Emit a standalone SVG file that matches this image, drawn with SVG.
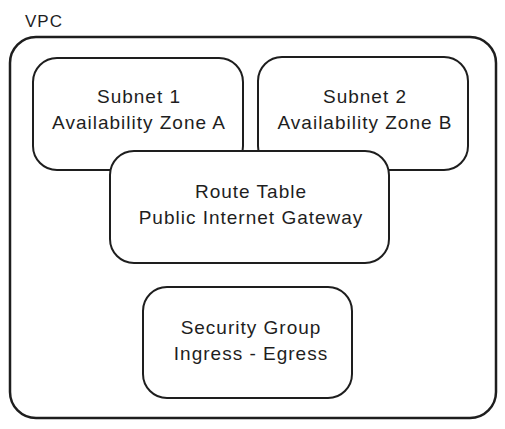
<svg xmlns="http://www.w3.org/2000/svg" width="505" height="429" viewBox="0 0 505 429">
<style>
.box{fill:#fff;stroke:#1e1e1e;stroke-width:2;}
.outer{fill:none;stroke:#1e1e1e;stroke-width:2.5;}
text{font-family:"Liberation Sans","DejaVu Sans",sans-serif;font-size:19px;letter-spacing:1px;fill:#1e1e1e;text-anchor:middle;}
</style>
<rect width="505" height="429" fill="#fff"/>
<g id="vpc">
<text x="25" y="27" style="text-anchor:start;font-size:17px">VPC</text>
<rect class="outer" x="10" y="37" width="486" height="381" rx="26"/>
</g>
<g id="subnet1">
<rect class="box" x="33" y="58" width="210" height="112" rx="24"/>
<text x="139" y="103">Subnet 1</text>
<text x="139" y="129">Availability Zone A</text>
</g>
<g id="subnet2">
<rect class="box" x="258" y="57" width="210" height="113" rx="24"/>
<text x="365" y="103">Subnet 2</text>
<text x="365" y="129">Availability Zone B</text>
</g>
<g id="routetable">
<rect class="box" x="110" y="151" width="279" height="112" rx="24"/>
<text x="251" y="198">Route Table</text>
<text x="251" y="224">Public Internet Gateway</text>
</g>
<g id="securitygroup">
<rect class="box" x="143" y="287" width="209" height="111" rx="24"/>
<text x="251" y="334">Security Group</text>
<text x="251" y="360">Ingress - Egress</text>
</g>
<g id="connectors"></g>
</svg>
